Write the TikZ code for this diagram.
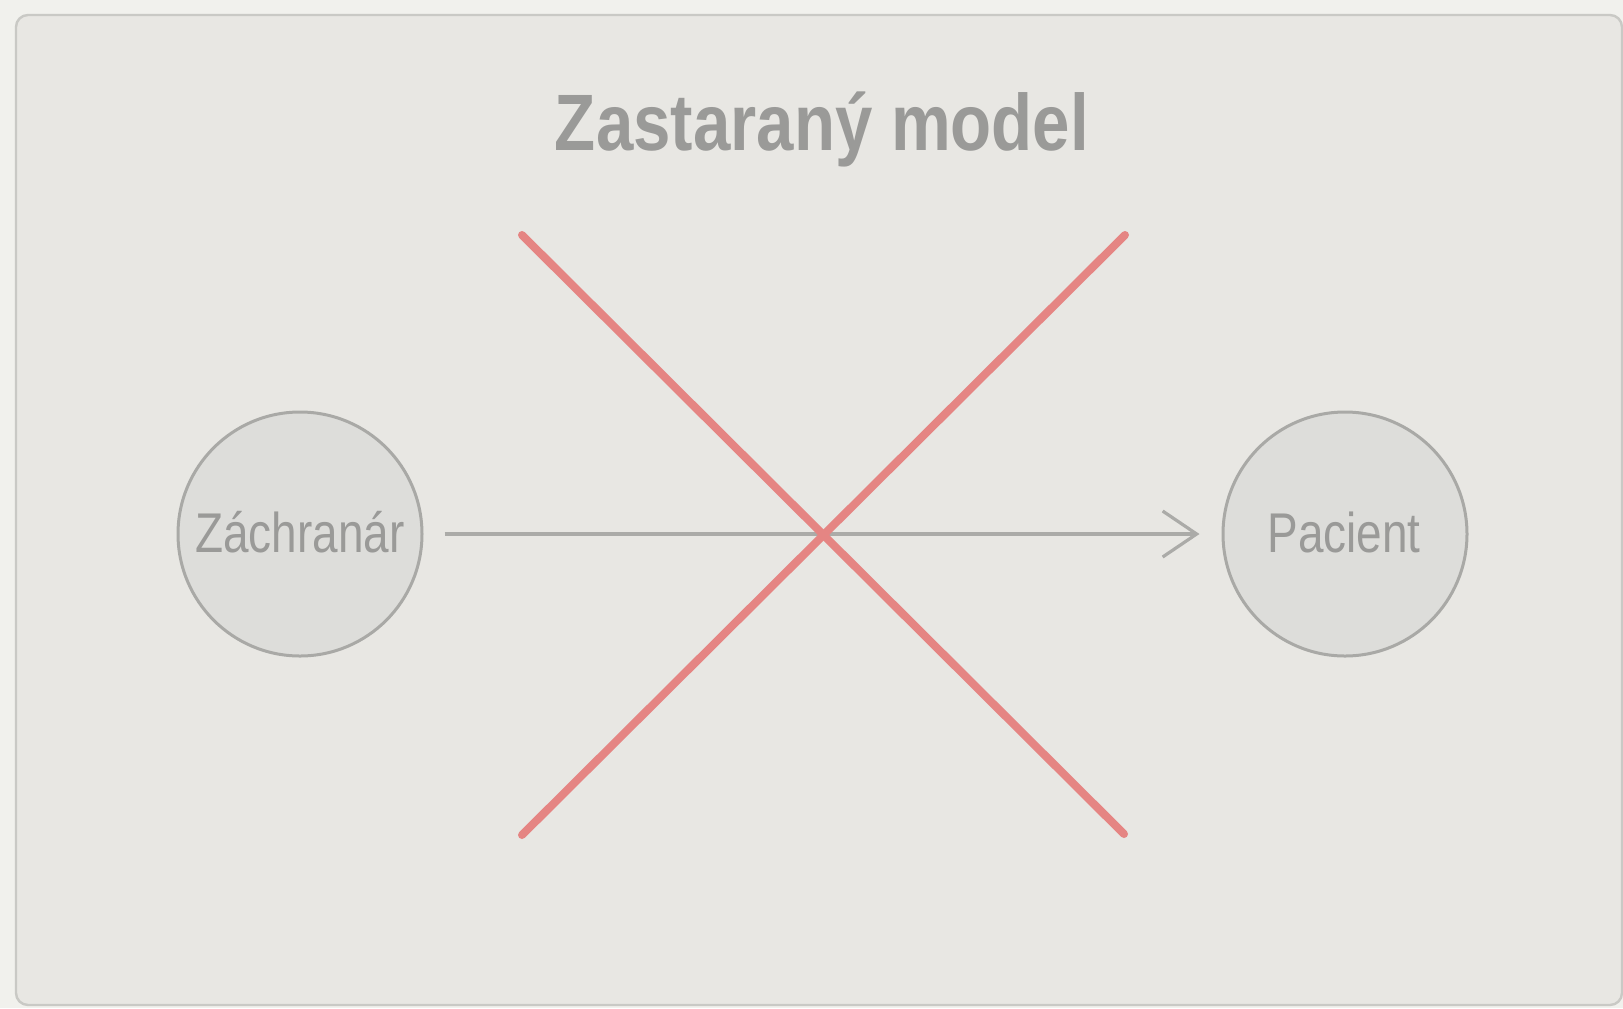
\documentclass[tikz,border=0pt]{standalone}
\usepackage{fontspec}
\usetikzlibrary{arrows.meta}
\newfontfamily\titlefont{Liberation Sans}[FakeStretch=0.84]
\newfontfamily\labelfont{Liberation Sans}[FakeStretch=0.82]
\definecolor{bgcol}{HTML}{F1F1ED}
\definecolor{panelfill}{HTML}{E8E7E3}
\definecolor{panelline}{HTML}{C9C9C5}
\definecolor{circfill}{HTML}{DDDDDA}
\definecolor{circline}{HTML}{A9A9A6}
\definecolor{txtcol}{HTML}{9A9A98}
\definecolor{arrcol}{HTML}{ABABA8}
\definecolor{crosscol}{HTML}{E58583}
\tikzset{
  panel/.style={draw=panelline, fill=panelfill, line width=1.2pt, rounded corners=6pt},
  person/.style={circle, draw=circline, fill=circfill, line width=1.5pt, minimum size=244*0.5pt, inner sep=0pt},
  personlabel/.style={anchor=base, text=txtcol, font=\labelfont\fontsize{28}{31}\selectfont, inner sep=0pt},
  titletext/.style={anchor=base, text=txtcol, font=\titlefont\bfseries\fontsize{40}{45}\selectfont, inner sep=0pt},
  flow/.style={draw=arrcol, line width=1.6pt, -{Straight Barb[length=17pt, width=23pt, line width=1.6pt]}},
  crossline/.style={draw=crosscol, line width=4pt, line cap=round}
}
\begin{document}
\begin{tikzpicture}[x=0.5pt, y=-0.5pt]
\useasboundingbox (0,0) rectangle (1623,1008);
\fill[bgcol] (0,0) rectangle (1623,1008);
\draw[panel] (16,15) rectangle (1622,1005);
\node[titletext] (title) at (822,150) {Zastaraný model};
\node[person] (rescuer) at (300,534) {};
\node[person] (patient) at (1345,534) {};
\node[personlabel] (rescuerlabel) at (300,552) {Záchranár};
\node[personlabel] (patientlabel) at (1344,552) {Pacient};
\draw[flow, shorten <=10.5pt, shorten >=11pt] (rescuer.east) -- (patient.west);
\coordinate (xtl) at (522,235);
\coordinate (xtr) at (1125,235);
\coordinate (xbl) at (522,835);
\coordinate (xbr) at (1124,834);
\draw[crossline] (xtl) -- (xbr);
\draw[crossline] (xtr) -- (xbl);
\end{tikzpicture}
\end{document}
